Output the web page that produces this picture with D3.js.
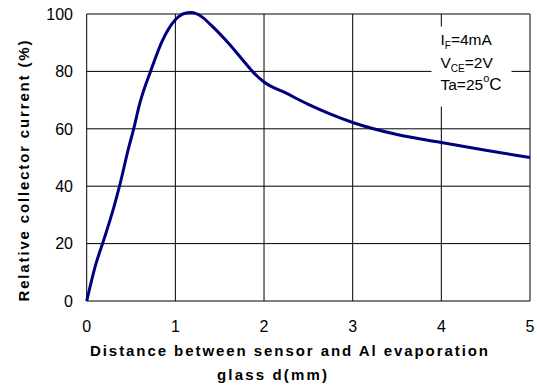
<!DOCTYPE html>
<html>
<head>
<meta charset="utf-8">
<script src="https://cdn.jsdelivr.net/npm/d3@7"></script>
<style>
  html, body { margin: 0; padding: 0; background: #fff; }
  svg { display: block; font-family: Arial, "Liberation Sans", sans-serif; }
</style>
</head>
<body>
<svg id="chart" width="537" height="388"></svg>
<script>
// Relative collector current vs. distance to the Al evaporation glass
const distance = [0, 0.1, 0.2, 0.3, 0.37, 0.47, 0.53, 0.6, 0.72, 0.85, 1.0, 1.1, 1.18, 1.3, 1.4, 1.6, 1.8, 1.9, 2.0, 2.25, 2.5, 2.75, 3.0, 3.5, 4.0, 4.5, 5.0];
const current  = [0, 12.5, 22, 32, 40, 53, 60, 69, 80, 90.5, 98, 100.2, 100.5, 99, 96.2, 89.8, 82.5, 79, 76.3, 72.4, 68.5, 65.1, 62.2, 58, 55.2, 52.5, 50];
const xTicks = [0, 1, 2, 3, 4, 5];
const yTicks = [0, 20, 40, 60, 80, 100];
const conditions = ["I|F|=4mA", "V|CE|=2V", "Ta=25|o|C"];

const svg = d3.select("#chart");
const x = d3.scaleLinear().domain([0, 5]).range([86.7, 530]);
const y = d3.scaleLinear().domain([0, 100]).range([301, 14]);

// grid
const grid = svg.append("g").attr("stroke", "#000").attr("stroke-width", 1);
grid.selectAll("line.v").data(xTicks).join("line")
  .attr("class", "v")
  .attr("x1", d => x(d)).attr("x2", d => x(d))
  .attr("y1", y(0)).attr("y2", y(100));
grid.selectAll("line.h").data(yTicks).join("line")
  .attr("class", "h")
  .attr("x1", x(0)).attr("x2", x(5))
  .attr("y1", d => y(d)).attr("y2", d => y(d));

// conditions box (covers grid)
svg.append("rect")
  .attr("x", 431.5).attr("y", 26.5).attr("width", 80).attr("height", 80)
  .attr("fill", "#fff");

// curve
const line = d3.line()
  .x((d, i) => x(distance[i]))
  .y(d => y(d))
  .curve(d3.curveMonotoneX);
svg.append("path")
  .datum(current)
  .attr("d", line)
  .attr("fill", "none")
  .attr("stroke", "#000080")
  .attr("stroke-width", 3)
  .attr("stroke-linejoin", "round");

// y tick labels
svg.append("g").selectAll("text").data(yTicks).join("text")
  .attr("x", 73).attr("y", d => y(d)).attr("dy", "0.36em")
  .attr("text-anchor", "end")
  .attr("font-size", 16).attr("fill", "#000")
  .text(d => d);

// x tick labels
svg.append("g").selectAll("text").data(xTicks).join("text")
  .attr("x", d => x(d)).attr("y", 331.5)
  .attr("text-anchor", "middle")
  .attr("font-size", 16).attr("fill", "#000")
  .text(d => d);

// axis titles
svg.append("text")
  .attr("x", 90).attr("y", 355.5)
  .attr("font-size", 15).attr("font-weight", "bold")
  .attr("textLength", 398).attr("lengthAdjust", "spacing")
  .text("Distance between sensor and Al evaporation");
svg.append("text")
  .attr("x", 217).attr("y", 380)
  .attr("font-size", 15).attr("font-weight", "bold")
  .attr("textLength", 110).attr("lengthAdjust", "spacing")
  .text("glass d(mm)");
svg.append("text")
  .attr("transform", "translate(29,301.5) rotate(-90)")
  .attr("font-size", 15).attr("font-weight", "bold")
  .attr("textLength", 261).attr("lengthAdjust", "spacing")
  .text("Relative collector current (%)");

// measurement conditions
const cond = svg.append("g").attr("font-size", 15.5).attr("fill", "#000");
const baselines = [45, 68, 90];
conditions.forEach((c, i) => {
  const parts = c.split("|");
  const t = cond.append("text").attr("x", 440.5).attr("y", baselines[i]);
  parts.forEach((p, j) => {
    if (p === "") return;
    const ts = t.append("tspan").text(p);
    if (j === 1) {
      // subscript / superscript part
      const sup = p === "o";
      ts.attr("font-size", sup ? 11 : 10)
        .attr("dy", sup ? -8 : 4);
    } else if (j === 2) {
      const prev = parts[1];
      ts.attr("dy", prev === "o" ? 8 : -4);
      if (prev === "o") ts.attr("font-size", 17);
    }
  });
});
</script>
</body>
</html>
